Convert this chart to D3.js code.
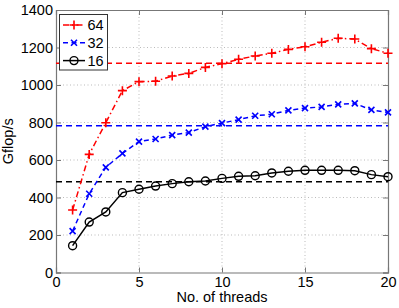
<!DOCTYPE html>
<html><head><meta charset="utf-8">
<script src="https://cdn.jsdelivr.net/npm/d3@7"></script>
<style>body{margin:0;background:#fff}svg{display:block}text{font-family:"Liberation Sans",Arial,sans-serif}</style>
</head><body><svg id="c" width="399" height="308"></svg>
<script>
const threads = d3.range(1, 21);
const s64 = [333,630,799,970,1018,1020,1048,1062,1094,1114,1137,1155,1169,1190,1204,1228,1249,1245,1194,1169];
const s32 = [221,420,561,635,698,712,733,746,778,797,815,836,844,865,877,883,897,902,867,854];
const s16 = [143,269,323,426,444,461,474,484,488,502,513,516,531,540,545,545,545,543,522,511];
const refLines = [1116, 783, 484];
const seriesNames = ["64","32","16"];
const xTicks = [0,5,10,15,20];
const yTicks = [0,200,400,600,800,1000,1200,1400];

const svg = d3.select("#c");
const L=56,R=388,T=10,B=272.5;
const x = d3.scaleLinear().domain([0,20]).range([L,R]);
const y = d3.scaleLinear().domain([0,1400]).range([B,T]);
const colors=["#ff0000","#0000ff","#000000"];
const dashes=["6,3,1.5,3","5,3.5",null];
const data=[s64,s32,s16];

// grid
const g=svg.append("g");
g.selectAll(".gx").data(xTicks.slice(1,-1)).join("line")
 .attr("x1",d=>x(d)).attr("x2",d=>x(d)).attr("y1",T).attr("y2",B)
 .attr("stroke","#aaa").attr("stroke-width",0.8).attr("stroke-dasharray","1,2.5");
g.selectAll(".gy").data(yTicks.slice(1,-1)).join("line")
 .attr("y1",d=>y(d)).attr("y2",d=>y(d)).attr("x1",L).attr("x2",R)
 .attr("stroke","#aaa").attr("stroke-width",0.8).attr("stroke-dasharray","1,2.5");

// axes
const fmt=d3.format("d");
const ax=svg.append("g").attr("transform",`translate(0,${B})`)
 .call(d3.axisBottom(x).tickValues(xTicks).tickSize(-5).tickPadding(4).tickFormat(fmt));
const ay=svg.append("g").attr("transform",`translate(${L},0)`)
 .call(d3.axisLeft(y).tickValues(yTicks).tickSize(-5).tickPadding(3).tickFormat(fmt));
const ay2=svg.append("g").attr("transform",`translate(${R},0)`)
 .call(d3.axisRight(y).tickValues(yTicks).tickSize(-5).tickFormat(""));
const ax2=svg.append("g").attr("transform",`translate(0,${T})`)
 .call(d3.axisTop(x).tickValues(xTicks).tickSize(-5).tickFormat(""));
[ax,ay,ay2,ax2].forEach(a=>{a.select(".domain").attr("stroke","#777").attr("stroke-width",1.2);
 a.selectAll(".tick line").attr("stroke","#777");
 a.selectAll("text").attr("font-size",14.5).attr("fill","#000").attr("font-family","Liberation Sans, Arial, sans-serif");});

// reference lines
refLines.forEach((v,i)=>{svg.append("line").attr("x1",L).attr("x2",R).attr("y1",y(v)).attr("y2",y(v))
 .attr("stroke",colors[i]).attr("stroke-width",1.6).attr("stroke-dasharray","6,4");});

// series
const line=d3.line().x((d,i)=>x(threads[i])).y(d=>y(d));
function marker(sel,k,c){
 if(k===0){sel.append("path").attr("d","M-4.5,0H4.5M0,-4.5V4.5").attr("stroke",c).attr("stroke-width",1.6);}
 else if(k===1){sel.append("path").attr("d","M-3,-3L3,3M-3,3L3,-3").attr("stroke",c).attr("stroke-width",1.6);}
 else {sel.append("circle").attr("r",4).attr("fill","none").attr("stroke",c).attr("stroke-width",1.4);}
}
data.forEach((s,k)=>{
 svg.append("path").datum(s).attr("d",line).attr("fill","none").attr("stroke",colors[k])
  .attr("stroke-width",1.5).attr("stroke-dasharray",dashes[k]);
 s.forEach((v,i)=>{const m=svg.append("g").attr("transform",`translate(${x(threads[i])},${y(v)})`);marker(m,k,colors[k]);});
});

// legend
const lg=svg.append("g");
lg.append("rect").attr("x",59.5).attr("y",14.5).attr("width",48).attr("height",55.5).attr("fill","#fff").attr("stroke","#333").attr("stroke-width",1);
seriesNames.forEach((n,k)=>{const yy=25+k*17.8;
 lg.append("line").attr("x1",63).attr("x2",85).attr("y1",yy).attr("y2",yy).attr("stroke",colors[k]).attr("stroke-width",1.5).attr("stroke-dasharray",dashes[k]);
 marker(lg.append("g").attr("transform",`translate(74,${yy})`),k,colors[k]);
 lg.append("text").attr("x",87.5).attr("y",yy).attr("dy","0.36em").attr("font-size",14.5).text(n);
});

// labels
svg.append("text").attr("x",(L+R)/2).attr("y",302).attr("text-anchor","middle").attr("font-size",14.5).text("No. of threads");
svg.append("text").attr("transform",`translate(13,${(T+B)/2}) rotate(-90)`).attr("text-anchor","middle").attr("font-size",14.5).text("Gflop/s");
</script></body></html>
